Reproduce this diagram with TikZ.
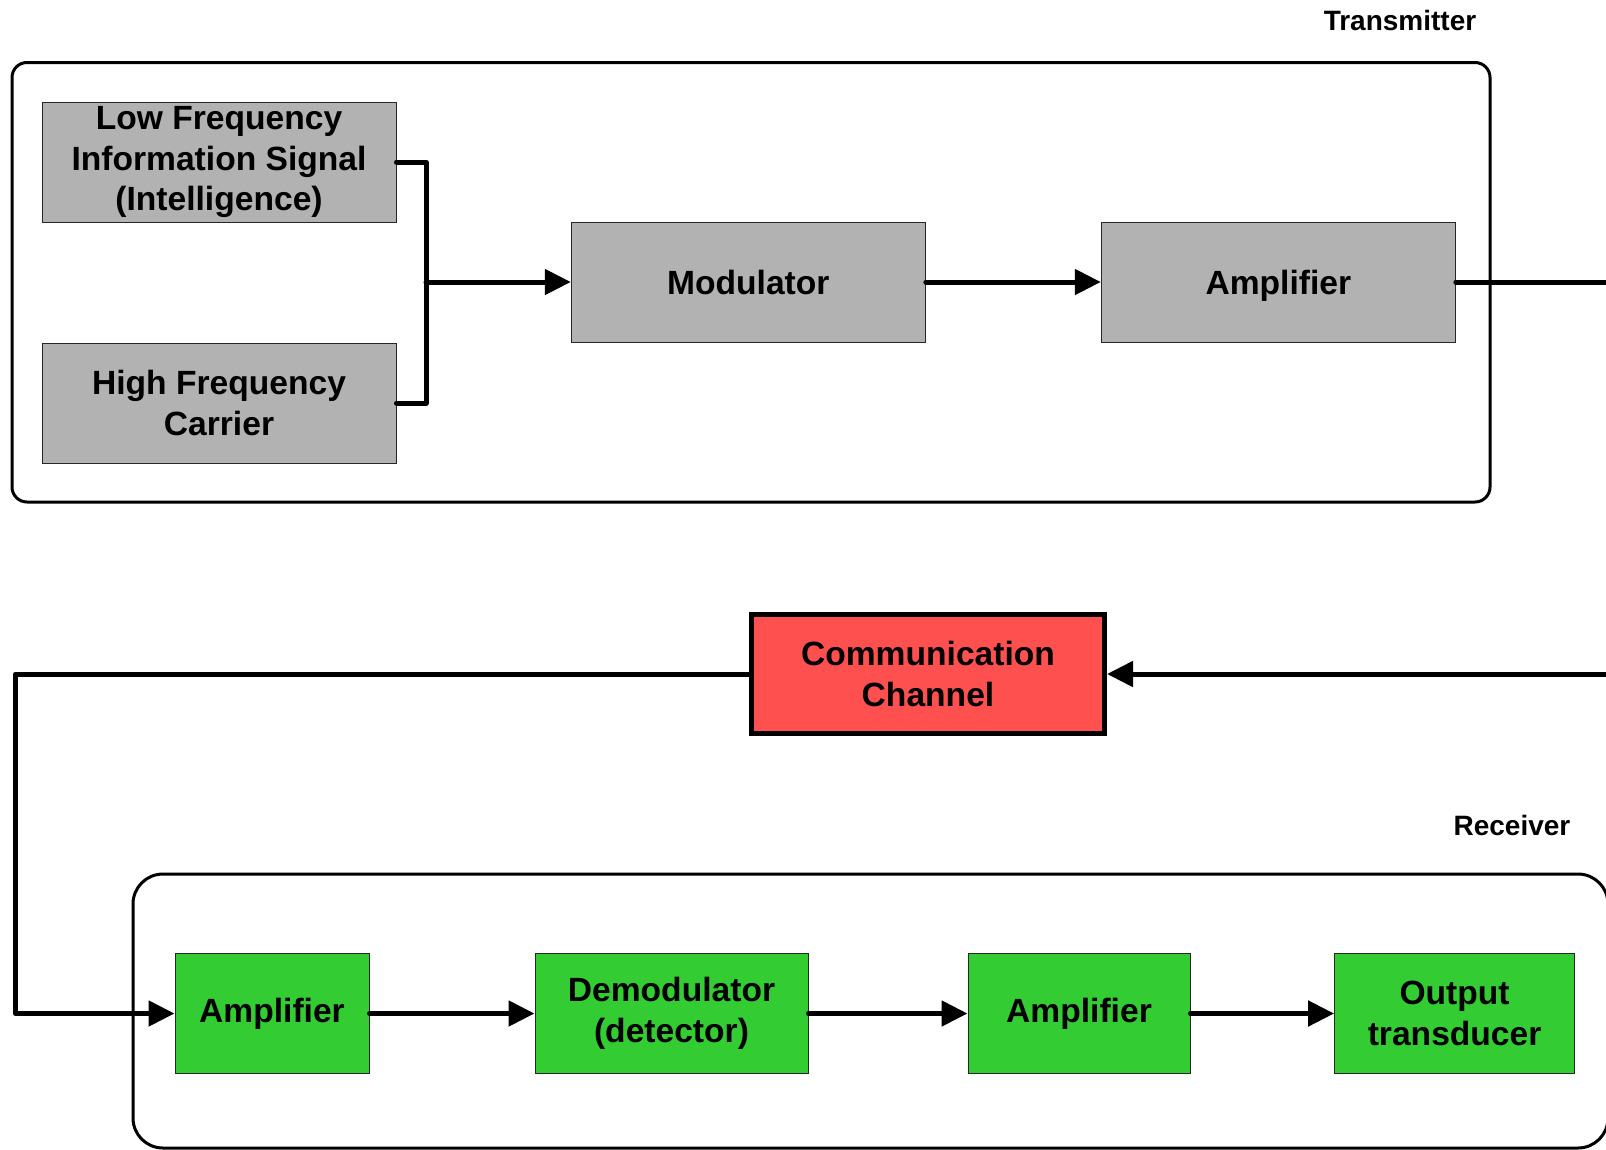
\documentclass[tikz,border=0pt]{standalone}
\usepackage{fontspec}
\setmainfont{Liberation Sans}
\usepackage{tikz}
\usetikzlibrary{positioning,arrows.meta}
\definecolor{txgray}{RGB}{178,178,178}
\definecolor{rxgreen}{RGB}{51,204,51}
\definecolor{chred}{RGB}{255,80,80}

\begin{document}
\begin{tikzpicture}[x=1pt, y=-1pt, node distance=160pt,
    block/.style={draw=black!85, line width=1pt, minimum height=120pt, inner sep=0pt,
      align=center, font=\fontsize{33.6}{40.5}\selectfont\bfseries},
    txblock/.style={block, fill=txgray, minimum width=354pt},
    rxblock/.style={block, fill=rxgreen},
    panel/.style={draw, line width=3pt},
    wire/.style={line width=5pt, line cap=round, line join=round},
    flow/.style={wire, -{Triangle[length=26pt,width=25pt]}},
    tag/.style={font=\fontsize{28}{34}\selectfont\bfseries}]
  \useasboundingbox (0,0) rectangle (1606,1149);
  \draw[panel, rounded corners=15pt] (12,62.5) rectangle (1490,502);
  \draw[panel, rounded corners=30pt] (133,874) rectangle (1608,1148);
  \node[tag] (txlabel) at (1400,20) {Transmitter};
  \node[tag] (rxlabel) at (1512,825) {Receiver};
  \node[txblock] (lf) at (219,162) {Low Frequency\\Information Signal\\(Intelligence)};
  \node[txblock, below=120pt of lf] (hf) {High Frequency\\Carrier};
  \node[txblock] (mod) at (748.3,282) {Modulator};
  \node[txblock, right=175pt of mod, text depth=0pt] (txamp) {Amplifier};
  \node[block, fill=chred, draw=black, line width=5pt, minimum width=353pt,
    minimum height=119pt] (chan) at (928,674) {Communication\\Channel};
  \node[rxblock, minimum width=194pt] (rxamp) at (272,1013.5) {Amplifier};
  \node[rxblock, minimum width=273pt, right=165pt of rxamp] (demod) {Demodulator\\(detector)};
  \node[rxblock, minimum width=222pt, right=159pt of demod] (rxamp2) {Amplifier};
  \node[rxblock, minimum width=240pt, right=143.6pt of rxamp2] (outtr) {Output\\transducer};
  \coordinate (junc) at (426,282);
  \coordinate (txout) at (1606,282);
  \coordinate (chin) at (1606,674);
  \coordinate (loop) at (15.4,674);
  \draw[wire] (lf.east) -| (junc) |- (hf.east);
  \draw[flow] (junc) -- (mod.west);
  \draw[flow] (mod.east) -- (txamp.west);
  \draw[wire] (txamp.east) -- (txout);
  \draw[flow] (chin) -- (chan.east);
  \draw[flow] (chan.west) -- (loop) |- (rxamp.west);
  \draw[flow] (rxamp.east) -- (demod.west);
  \draw[flow] (demod.east) -- (rxamp2.west);
  \draw[flow] (rxamp2.east) -- (outtr.west);
\end{tikzpicture}
\end{document}
